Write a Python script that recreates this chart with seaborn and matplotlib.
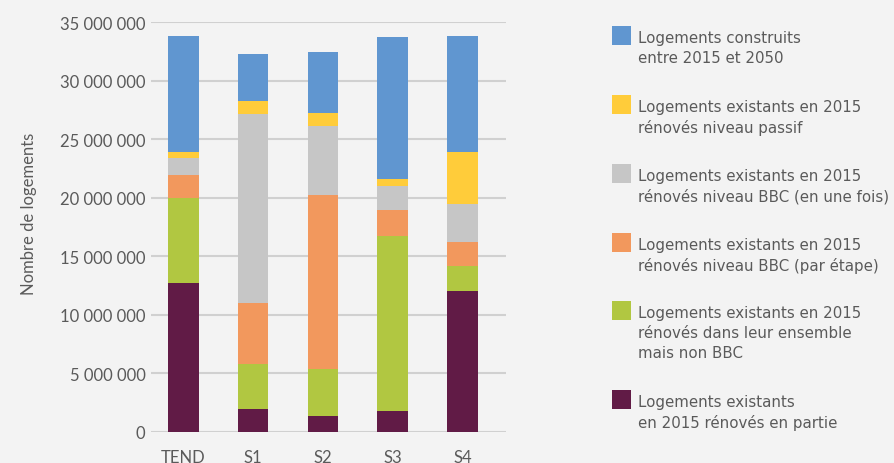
import matplotlib
matplotlib.use("Agg")
import matplotlib.pyplot as plt
from matplotlib.patches import Rectangle
from matplotlib.ticker import FuncFormatter, MultipleLocator
import numpy as np
import pandas as pd
import seaborn as sns

# ---- data (millions of dwellings) ----
scenarios = ["TEND", "S1", "S2", "S3", "S4"]
partie = [12.73, 1.96, 1.40, 1.79, 12.04]
ensemble_non_bbc = [7.27, 3.85, 4.01, 14.95, 2.14]
bbc_etape = [1.98, 5.21, 14.83, 2.22, 2.05]
bbc_une_fois = [1.42, 16.14, 5.87, 2.05, 3.25]
passif = [0.52, 1.11, 1.14, 0.60, 4.44]
construits = [9.91, 4.02, 5.21, 12.13, 9.91]

series_labels = [
    "Logements existants\nen 2015 rénovés en partie",
    "Logements existants en 2015\nrénovés dans leur ensemble\nmais non BBC",
    "Logements existants en 2015\nrénovés niveau BBC (par étape)",
    "Logements existants en 2015\nrénovés niveau BBC (en une fois)",
    "Logements existants en 2015\nrénovés niveau passif",
    "Logements construits\nentre 2015 et 2050",
]
series_values = [partie, ensemble_non_bbc, bbc_etape, bbc_une_fois, passif, construits]
colors = ["#611B46", "#B1C741", "#F2985D", "#C6C6C6", "#FFCC3A", "#6096D0"]

bg = "#F3F3F3"
txt = "#5A5A5A"

sns.set_theme(style="white")
plt.rcParams["font.family"] = ["Lato", "DejaVu Sans"]

fig = plt.figure(figsize=(8.94, 4.64), dpi=100, facecolor=bg)
ax = fig.add_axes([151 / 894, 1 - 433 / 464, 355 / 894, 410 / 464])
ax.set_facecolor(bg)

bottom = np.zeros(len(scenarios))
for vals, col in zip(series_values, colors):
    v = np.array(vals) * 1e6
    df = pd.DataFrame({"scenario": scenarios, "value": v})
    sns.barplot(data=df, x="scenario", y="value", bottom=bottom, color=col,
                saturation=1, width=0.44, linewidth=0, errorbar=None, ax=ax,
                zorder=3)
    bottom = bottom + v

ax.set_ylim(0, 35e6)
ax.set_xlim(-0.46, 4.62)
ax.yaxis.set_major_locator(MultipleLocator(5e6))
ax.yaxis.set_major_formatter(FuncFormatter(lambda v, p: f"{int(round(v)):,}".replace(",", " ")))
ax.grid(axis="y", color="#D0D0D0", linewidth=1.5, zorder=0)
ax.set_axisbelow(True)
for s in ax.spines.values():
    s.set_visible(False)
ax.tick_params(axis="both", length=0, labelsize=12, colors=txt)
ax.tick_params(axis="y", pad=4)
ax.tick_params(axis="x", pad=12)
ax.set_xlabel("")
ax.set_ylabel("Nombre de logements", fontsize=12, color=txt)
ax.yaxis.set_label_coords(-0.32, 0.534)

# ---- legend (drawn top-aligned, top entry = last series) ----
patch_tops = [27, 96, 165, 234, 302, 391]
for i, (lab, col) in enumerate(zip(series_labels[::-1], colors[::-1])):
    y0 = patch_tops[i]
    fig.patches.append(Rectangle((612 / 894, 1 - (y0 + 19) / 464), 19 / 894, 19 / 464,
                                 transform=fig.transFigure, facecolor=col,
                                 edgecolor="none"))
    fig.text(638 / 894, 1 - (y0 + 4) / 464, lab, ha="left", va="top",
             fontsize=10.8, color=txt, linespacing=1.42,
             family=["DejaVu Sans"])

fig.savefig("out.png", dpi=100, facecolor=bg)
